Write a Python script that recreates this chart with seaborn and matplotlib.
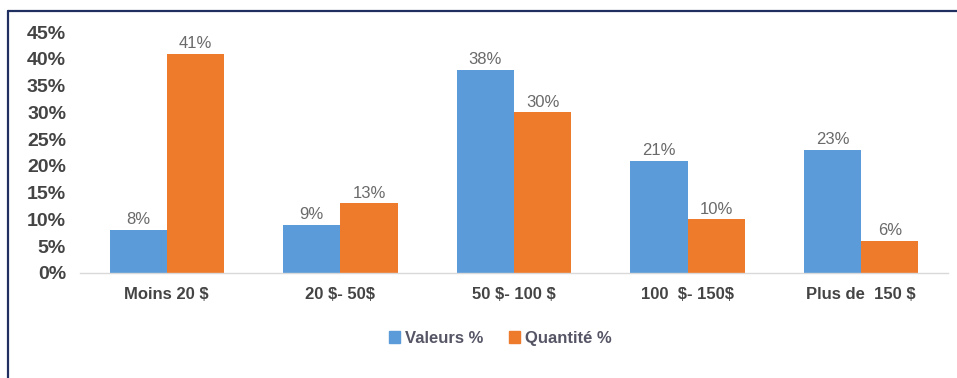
import matplotlib
matplotlib.use("Agg")
import matplotlib.pyplot as plt
from matplotlib.lines import Line2D
from matplotlib.patches import Patch
import seaborn as sns
import pandas as pd

categories = ["Moins 20 $", "20 $- 50$", "50 $- 100 $", "100  $- 150$", "Plus de  150 $"]
valeurs = [8, 9, 38, 21, 23]
quantite = [41, 13, 30, 10, 6]
series_names = ["Valeurs %", "Quantité %"]
yticks = [0, 5, 10, 15, 20, 25, 30, 35, 40, 45]

df = pd.DataFrame({
    "cat": categories * 2,
    "val": valeurs + quantite,
    "serie": [series_names[0]] * len(categories) + [series_names[1]] * len(categories),
})

sns.set_theme(style="white")
plt.rcParams['font.family'] = ['Liberation Sans', 'DejaVu Sans']
plt.rcParams['text.parse_math'] = False

colors = {"Valeurs %": "#5b9bd9", "Quantité %": "#ee7a2c"}

fig = plt.figure(figsize=(9.57, 3.78), dpi=100)
ax = fig.add_axes([0.0836, 0.278, 0.907, 0.637])
sns.barplot(data=df, x="cat", y="val", hue="serie", palette=colors, width=0.66,
            ax=ax, legend=False, saturation=1, linewidth=0)

for cont in ax.containers:
    ax.bar_label(cont, labels=[f"{v:.0f}%" for v in cont.datavalues], padding=2,
                 fontsize=12, color="#6a6a6a")

ax.set_xlim(-0.5, len(categories) - 0.5)
ax.set_ylim(0, 45)
ax.set_yticks(yticks)
ax.set_yticklabels([f"{t}%" for t in yticks], fontsize=14, fontweight="bold", color="#444444")
ax.set_xticks(range(len(categories)))
ax.set_xticklabels(categories, fontsize=12, color="#444444",
                   family=['Liberation Sans Narrow', 'Liberation Sans'], fontweight="bold")
ax.tick_params(axis="x", length=0, pad=10)
ax.tick_params(axis="y", length=0, pad=10)
ax.set_xlabel("")
ax.set_ylabel("")
for s in ["top", "right", "left"]:
    ax.spines[s].set_visible(False)
ax.spines["bottom"].set_color("#d9d9d9")
ax.spines["bottom"].set_linewidth(1)

handles = [Patch(color=colors[n]) for n in series_names]
leg = fig.legend(handles, series_names, loc="center", bbox_to_anchor=(0.523, 0.105), ncol=2,
                 frameon=False, handlelength=0.7, handleheight=0.7, handletextpad=0.3,
                 columnspacing=1.5,
                 prop={"family": ['Liberation Sans Narrow', 'Liberation Sans'], "size": 12, "weight": "bold"})
for t in leg.get_texts():
    t.set_color("#555566")

fig.add_artist(Line2D([8 / 957, 8 / 957], [0, 1 - 11 / 378], transform=fig.transFigure,
                      color="#1f3060", linewidth=1.6))
fig.add_artist(Line2D([8 / 957, 1], [1 - 11 / 378, 1 - 11 / 378], transform=fig.transFigure,
                      color="#1f3060", linewidth=1.6))

fig.savefig("out.png", dpi=100, facecolor="white")
